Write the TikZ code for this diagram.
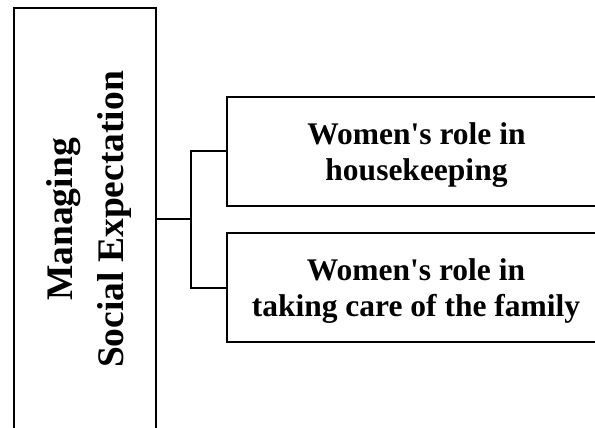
\documentclass[tikz,border=0pt]{standalone}
\usepackage{fontspec}
\setmainfont{Liberation Serif}
\begin{document}
\begin{tikzpicture}[x=1pt,y=-1pt,
  boxline/.style={draw=black,line width=2pt},
  conn/.style={draw=black,line width=2pt},
  lbl/.style={inner sep=0pt,align=center,font=\bfseries\fontsize{31.5}{36.2}\selectfont},
  mainlbl/.style={inner sep=0pt,align=center,rotate=90,font=\bfseries\fontsize{37.5}{51}\selectfont}]
\useasboundingbox (0,0) rectangle (595,428);
\clip (0,0) rectangle (595,428);
\fill[white] (0,0) rectangle (595,428);
% boxes
\draw[boxline] (14,8.3) rectangle (155.7,432);
\draw[boxline] (227.3,96.7) rectangle (606,206);
\draw[boxline] (227.3,233.3) rectangle (606,342);
\coordinate (mainE) at (155.7,219.3);
\coordinate (r1W) at (227.3,151.3);
\coordinate (r2W) at (227.3,287.7);
% labels
\node[mainlbl] (main) at (88.5,219.5) {Managing\\Social Expectation};
\node[lbl] (r1) at (416.5,155) {Women\textquotesingle s role in\\housekeeping};
\node[lbl] (r2) at (416,291.2) {Women\textquotesingle s role in\\taking care of the family};
% connectors
\draw[conn] (mainE) -- (191,219.3);
\draw[conn] (r1W) -| (191,287.7) -- (r2W);
\end{tikzpicture}
\end{document}
